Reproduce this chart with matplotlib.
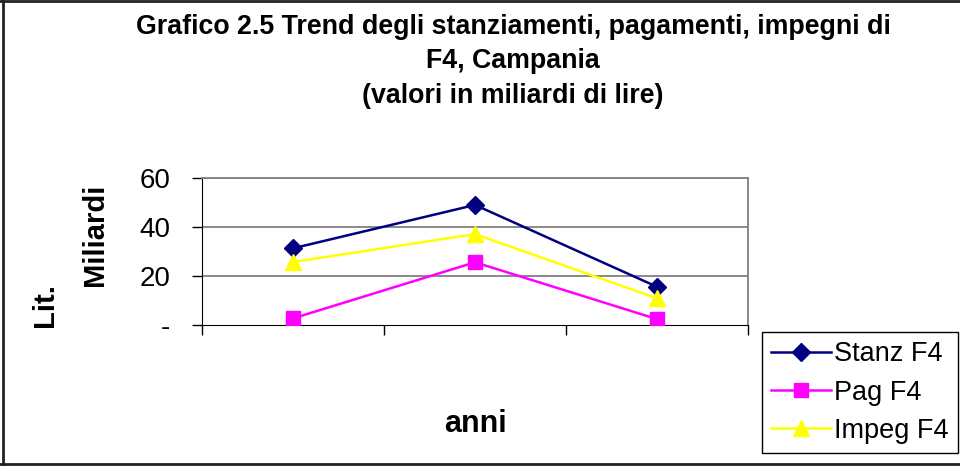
import matplotlib
matplotlib.use("Agg")
import matplotlib.pyplot as plt
from matplotlib.lines import Line2D

plt.rcParams['font.family'] = ['Liberation Sans', 'DejaVu Sans']

categories = ["", "", ""]
stanz = [31.3, 49.0, 15.6]
pag = [2.7, 25.6, 2.4]
impeg = [25.7, 37.1, 10.9]
yticks = [0, 20, 40, 60]
ytick_labels = ["-", "20", "40", "60"]

W, H = 960, 466
fig = plt.figure(figsize=(W / 100, H / 100), dpi=100)

ax = fig.add_axes([202 / W, 1 - 325 / H, (748 - 202) / W, (325 - 178) / H])
x = [0.5, 1.5, 2.5]
ax.plot(x, stanz, color="#000080", lw=1.8, marker="D", ms=9, label="Stanz F4", zorder=3)
ax.plot(x, pag, color="#FF00FF", lw=1.8, marker="s", ms=10, label="Pag F4", zorder=3)
ax.plot(x, impeg, color="#FFFF00", lw=1.8, marker="^", ms=11, label="Impeg F4", zorder=3)

ax.set_xlim(0, 3)
ax.set_ylim(0, 60)
ax.set_yticks(yticks)
ax.set_yticklabels(ytick_labels, fontsize=20)
ax.set_xticks([0, 1, 2, 3])
ax.set_xticklabels([""] * 4)
ax.tick_params(axis="both", direction="out", length=7, width=1, color="black")
ax.tick_params(axis="y", pad=16)
for y in [20, 40, 60]:
    ax.axhline(y, color="#808080", lw=1.3, zorder=1)
ax.spines["left"].set_color("black")
ax.spines["bottom"].set_color("black")
ax.spines["top"].set_color("#808080")
ax.spines["right"].set_color("#808080")
ax.spines["top"].set_linewidth(1.3)
ax.spines["right"].set_linewidth(1.3)

tx = 0.5 * (133 + 893) / W
fig.text(tx, 1 - 27 / H,
         "Grafico 2.5 Trend degli stanziamenti, pagamenti, impegni di",
         ha="center", va="center", fontsize=19.3, fontweight="bold")
fig.text(tx, 1 - 61 / H, "F4, Campania",
         ha="center", va="center", fontsize=19.3, fontweight="bold")
fig.text(tx, 1 - 96 / H, "(valori in miliardi di lire)",
         ha="center", va="center", fontsize=19.3, fontweight="bold")

fig.text(475 / W, 1 - 424 / H, "anni", ha="center", va="center",
         fontsize=22, fontweight="bold")
fig.text(45 / W, 1 - 305 / H, "Lit.", ha="center", va="center",
         fontsize=21, fontweight="bold", rotation=90)
fig.text(95 / W, 1 - 235 / H, "Miliardi", ha="center", va="center",
         fontsize=21, fontweight="bold", rotation=90)

leg = fig.legend(loc="upper left", bbox_to_anchor=(762 / W, 1 - 332 / H),
                 fontsize=19.5, frameon=True, fancybox=False, framealpha=1,
                 edgecolor="black", handlelength=2.2, handletextpad=0.1,
                 borderpad=0.35, labelspacing=0.45, borderaxespad=0)
leg.get_frame().set_linewidth(1.0)

# outer chart border (left, top, bottom)
fig.add_artist(Line2D([2.5 / W, 2.5 / W], [1 / H, 1 - 1 / H], transform=fig.transFigure, color="#222222", lw=2))
fig.add_artist(Line2D([0, 1], [1 - 1 / H, 1 - 1 / H], transform=fig.transFigure, color="#222222", lw=2))
fig.add_artist(Line2D([0, 1], [2 / H, 2 / H], transform=fig.transFigure, color="#222222", lw=2))

fig.savefig("out.png", dpi=100)
